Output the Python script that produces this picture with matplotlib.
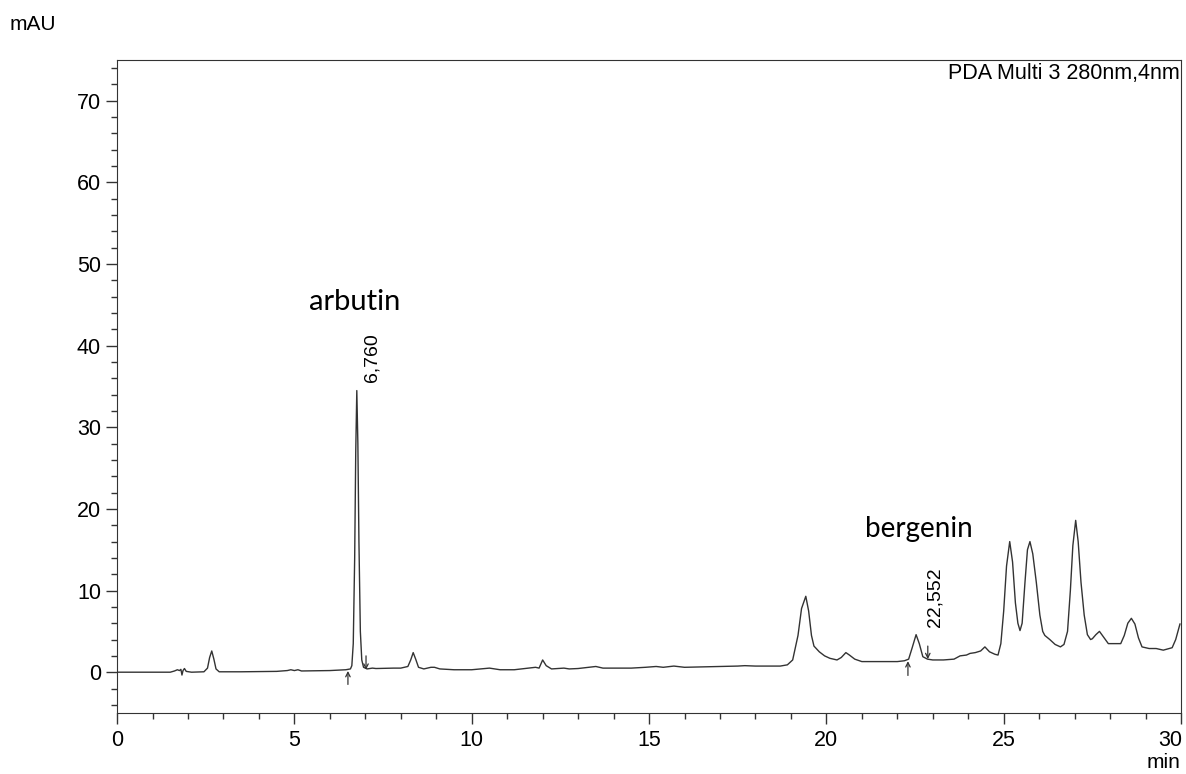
import matplotlib
matplotlib.use("Agg")
import matplotlib.pyplot as plt
from matplotlib.ticker import MultipleLocator, FuncFormatter

# chromatogram trace (time in min, signal in mAU)
time_min = [
    0.0, 1.5, 1.62, 1.7, 1.76, 1.8, 1.83, 1.86, 1.9, 1.95, 2.1,
    2.45, 2.55, 2.61, 2.67, 2.73, 2.79, 2.88,
    3.5, 4.5, 4.8, 4.9, 5.0, 5.1, 5.2, 6.0, 6.45, 6.58,
    6.62, 6.66, 6.70, 6.73, 6.76, 6.79, 6.82, 6.86, 6.90, 6.95, 7.05, 7.2, 7.3,
    7.8, 8.0, 8.2, 8.28, 8.35, 8.42, 8.5, 8.65, 8.85, 8.95, 9.1, 9.5, 10.0,
    10.5, 10.8, 11.2, 11.6, 11.8, 11.9, 12.0, 12.1, 12.25, 12.6, 12.75, 13.0,
    13.3, 13.5, 13.7, 14.5, 14.9, 15.2, 15.4, 15.7, 16.0, 16.5, 17.0, 17.5,
    17.7, 18.0, 18.7, 18.9, 19.05, 19.2, 19.3, 19.42, 19.5, 19.58, 19.65,
    19.8, 19.95, 20.1, 20.3, 20.42, 20.55, 20.65, 20.8, 21.0, 21.5, 22.0,
    22.2, 22.32, 22.42, 22.53, 22.62, 22.72, 22.85, 23.0, 23.3, 23.6, 23.77,
    23.95, 24.05, 24.2, 24.35, 24.47, 24.6, 24.75, 24.84, 24.92, 25.0, 25.08,
    25.17, 25.25, 25.33, 25.4, 25.46, 25.52, 25.6, 25.67, 25.74, 25.82, 25.92,
    26.02, 26.1, 26.16, 26.3, 26.45, 26.6, 26.7, 26.8, 26.88, 26.95, 27.03,
    27.1, 27.18, 27.27, 27.36, 27.45, 27.5, 27.6, 27.7, 27.8, 27.95, 28.1,
    28.3, 28.4, 28.5, 28.6, 28.7, 28.8, 28.9, 29.1, 29.3, 29.5, 29.75, 29.85,
    29.97,
]
signal_mau = [
    0.0, 0.0, 0.15, 0.3, 0.2, 0.35, -0.35, 0.2, 0.45, 0.1, 0.0,
    0.05, 0.5, 1.8, 2.6, 1.6, 0.4, 0.05,
    0.05, 0.1, 0.2, 0.3, 0.2, 0.3, 0.15, 0.2, 0.3, 0.4,
    0.8, 3.5, 14.0, 27.0, 34.5, 28.0, 16.0, 5.0, 1.5, 0.6, 0.4, 0.5, 0.45,
    0.5, 0.5, 0.7, 1.5, 2.4, 1.6, 0.6, 0.4, 0.6, 0.6, 0.4, 0.3, 0.3,
    0.5, 0.3, 0.3, 0.5, 0.6, 0.5, 1.5, 0.8, 0.4, 0.5, 0.4, 0.45,
    0.6, 0.7, 0.5, 0.5, 0.6, 0.7, 0.6, 0.75, 0.6, 0.65, 0.7, 0.75,
    0.8, 0.75, 0.75, 0.9, 1.5, 4.5, 7.8, 9.3, 7.5, 4.5, 3.2,
    2.5, 2.0, 1.7, 1.5, 1.8, 2.4, 2.1, 1.6, 1.3, 1.3, 1.3,
    1.4, 1.6, 3.0, 4.6, 3.5, 1.9, 1.6, 1.5, 1.5, 1.6, 2.0,
    2.1, 2.3, 2.4, 2.6, 3.1, 2.5, 2.2, 2.1, 3.5, 7.5, 13.0,
    16.0, 13.5, 8.5, 6.0, 5.1, 6.0, 11.0, 15.0, 16.0, 14.5, 11.0,
    7.0, 5.0, 4.5, 4.0, 3.4, 3.1, 3.4, 5.0, 10.0, 15.5, 18.6,
    16.0, 11.0, 7.0, 4.6, 4.0, 4.1, 4.6, 5.0, 4.4, 3.5, 3.5,
    3.5, 4.5, 6.0, 6.6, 5.9, 4.2, 3.1, 2.9, 2.9, 2.7, 3.0, 4.0,
    5.9,
]

# integration start/end markers: (time, tail, head)
marker_up = [(6.51, -1.5, 0.15), (22.30, -0.4, 1.35)]
marker_down = [(7.02, 2.0, 0.3), (22.86, 3.2, 1.6)]

# retention time labels
rt_labels = ["6,760", "22,552"]
rt_pos = [(7.2, 35.6), (23.05, 5.5)]

# compound names
names = ["arbutin", "bergenin"]
name_pos = [(6.7, 45.3), (22.6, 17.5)]

x_max = 30

plt.rcParams["font.family"] = ["Liberation Sans", "DejaVu Sans"]

fig = plt.figure(figsize=(11.86, 7.74), dpi=100)
ax = fig.add_axes([0.0987, 0.0788, 0.8971, 0.8437])

ax.plot(time_min, signal_mau, color="#333333", lw=1.0)

for t, tail, head in marker_up + marker_down:
    ax.annotate("", xy=(t, head), xytext=(t, tail),
                arrowprops=dict(arrowstyle="->", color="#333333", lw=0.9,
                                shrinkA=0, shrinkB=0, mutation_scale=8))

for lab, (x, y) in zip(rt_labels, rt_pos):
    ax.text(x, y, lab, rotation=90, ha="center", va="bottom", fontsize=14)

ax.text(name_pos[0][0], name_pos[0][1], names[0], ha="center", va="center",
        fontsize=21, family="Lato")
ax.text(name_pos[1][0], name_pos[1][1], names[1], ha="center", va="center",
        fontsize=20, family="Lato")

ax.set_xlim(0, x_max)
ax.set_ylim(-5, 75)
ax.xaxis.set_major_locator(MultipleLocator(5))
ax.xaxis.set_minor_locator(MultipleLocator(1))
ax.yaxis.set_major_locator(MultipleLocator(10))
ax.yaxis.set_minor_locator(MultipleLocator(2))
# last x label is drawn separately so it stays inside the figure
ax.xaxis.set_major_formatter(FuncFormatter(lambda v, p: "" if v >= x_max else f"{v:g}"))
ax.tick_params(which="major", direction="out", length=8, width=1, labelsize=15.5, color="#333333")
ax.tick_params(which="minor", direction="out", length=4.5, width=1, color="#333333")
ax.tick_params(axis="x", pad=4)
for s in ax.spines.values():
    s.set_color("#333333")

ax.annotate(f"{x_max}", xy=(x_max, 0), xycoords=("data", "axes fraction"),
            xytext=(1, -12), textcoords="offset points",
            ha="right", va="top", fontsize=15.5)

ax.text(0.999, 0.995, "PDA Multi 3 280nm,4nm", transform=ax.transAxes,
        ha="right", va="top", fontsize=15.5)
fig.text(10 / 1186, 1 - 25 / 774, "mAU", ha="left", va="center", fontsize=15)
fig.text(1180 / 1186, 1 - 763 / 774, "min", ha="right", va="center", fontsize=15)

fig.savefig("out.png", dpi=100)
